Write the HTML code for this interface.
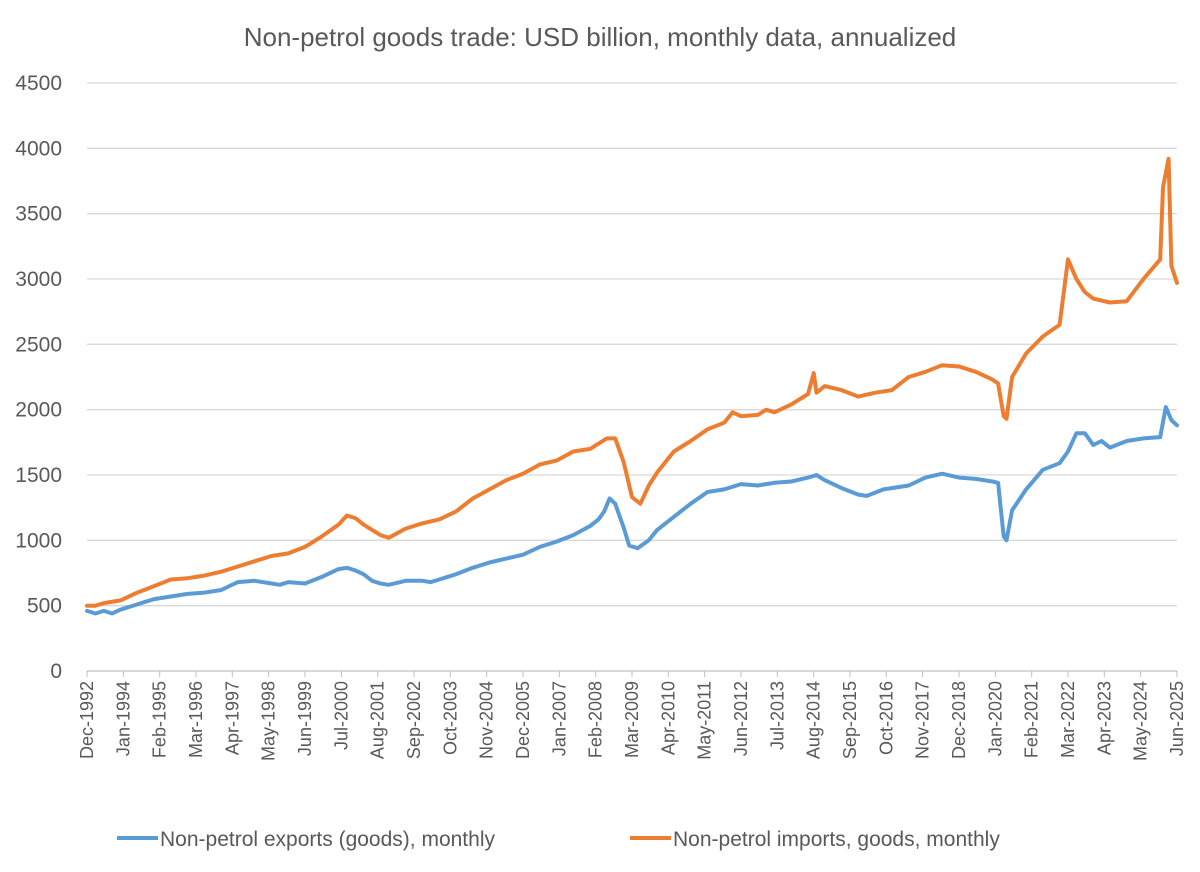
<!DOCTYPE html>
<html><head><meta charset="utf-8"><style>
body{margin:0;background:#fff;}
svg{display:block;font-family:"Liberation Sans",sans-serif;}
</style></head><body>
<svg id="chart" width="1200" height="872" viewBox="0 0 1200 872">
<rect width="1200" height="872" fill="#fff"/>
<text x="600" y="46" text-anchor="middle" font-size="26" fill="#595959">Non-petrol goods trade: USD billion, monthly data, annualized</text>
<g id="grid"></g><g id="ylabels"></g><g id="xlabels"></g><g id="series"></g>
<g>
<line x1="117" y1="838" x2="158" y2="838" stroke="#5b9bd5" stroke-width="4"/>
<text x="160" y="846" font-size="21" fill="#595959">Non-petrol exports (goods), monthly</text>
<line x1="630" y1="838" x2="671" y2="838" stroke="#ed7d31" stroke-width="4"/>
<text x="673" y="846" font-size="21" fill="#595959">Non-petrol imports, goods, monthly</text>
</g>
</svg>
<script>
const yTicks=[0,500,1000,1500,2000,2500,3000,3500,4000,4500];
const expDates=["1992-12","1993-03","1993-06","1993-09","1993-12","1994-03","1994-06","1994-09","1994-12","1995-06","1995-12","1996-06","1996-12","1997-06","1997-12","1998-06","1998-09","1998-12","1999-06","1999-12","2000-06","2000-09","2000-12","2001-03","2001-06","2001-09","2001-12","2002-06","2002-12","2003-03","2003-06","2003-12","2004-06","2004-12","2005-06","2005-12","2006-06","2006-12","2007-06","2007-12","2008-03","2008-05","2008-07","2008-09","2008-12","2009-02","2009-05","2009-09","2009-12","2010-06","2010-12","2011-06","2011-12","2012-06","2012-12","2013-06","2013-12","2014-06","2014-09","2014-12","2015-06","2015-12","2016-03","2016-09","2016-12","2017-06","2017-12","2018-06","2018-12","2019-06","2019-12","2020-02","2020-04","2020-05","2020-07","2020-12","2021-06","2021-12","2022-03","2022-06","2022-09","2022-12","2023-03","2023-06","2023-12","2024-06","2024-12","2025-02","2025-04","2025-06"];
const expValues=[460,440,460,440,470,490,510,530,550,570,590,600,620,680,690,670,660,680,670,720,780,790,770,740,690,670,660,690,690,680,700,740,790,830,860,890,950,990,1040,1110,1160,1220,1320,1280,1100,960,940,1000,1080,1180,1280,1370,1390,1430,1420,1440,1450,1480,1500,1460,1400,1350,1340,1390,1400,1420,1480,1510,1480,1470,1450,1440,1030,1000,1230,1390,1540,1590,1680,1820,1820,1730,1760,1710,1760,1780,1790,2020,1920,1880];
const impDates=["1992-12","1993-03","1993-06","1993-12","1994-06","1994-12","1995-06","1995-12","1996-06","1996-12","1997-06","1997-12","1998-06","1998-12","1999-06","1999-12","2000-06","2000-09","2000-12","2001-03","2001-06","2001-09","2001-12","2002-06","2002-12","2003-06","2003-12","2004-06","2004-12","2005-06","2005-12","2006-06","2006-12","2007-06","2007-12","2008-06","2008-09","2008-12","2009-03","2009-06","2009-09","2009-12","2010-06","2010-12","2011-06","2011-12","2012-03","2012-06","2012-12","2013-03","2013-06","2013-12","2014-06","2014-08","2014-09","2014-12","2015-06","2015-12","2016-06","2016-12","2017-06","2017-12","2018-06","2018-12","2019-06","2019-12","2020-02","2020-04","2020-05","2020-07","2020-12","2021-06","2021-12","2022-03","2022-06","2022-09","2022-12","2023-06","2023-12","2024-06","2024-12","2025-01","2025-03","2025-04","2025-06"];
const impValues=[500,500,520,540,600,650,700,710,730,760,800,840,880,900,950,1030,1120,1190,1170,1120,1080,1040,1020,1090,1130,1160,1220,1320,1390,1460,1510,1580,1610,1680,1700,1780,1780,1600,1330,1280,1420,1520,1680,1760,1850,1900,1980,1950,1960,2000,1980,2040,2120,2280,2130,2180,2150,2100,2130,2150,2250,2290,2340,2330,2290,2230,2200,1950,1930,2250,2430,2560,2650,3150,3000,2900,2850,2820,2830,3000,3150,3700,3920,3100,2970];
const monthNames=["Jan","Feb","Mar","Apr","May","Jun","Jul","Aug","Sep","Oct","Nov","Dec"];
const NS="http://www.w3.org/2000/svg";
const X0=87,X1=1177,Y0=671,YTOP=83,MAXY=4500,NMONTHS=390;
function mIndex(d){const [y,m]=d.split("-").map(Number);return (y-1992)*12+(m-12);}
function xs(i){return X0+(X1-X0)*i/NMONTHS;}
function ys(v){return Y0-(Y0-YTOP)*v/MAXY;}
function mk(tag,attrs,parent){const e=document.createElementNS(NS,tag);for(const k in attrs)e.setAttribute(k,attrs[k]);parent.appendChild(e);return e;}
const grid=document.getElementById("grid"),yl=document.getElementById("ylabels"),xl=document.getElementById("xlabels"),ser=document.getElementById("series");
yTicks.forEach(t=>{
  const l=mk("line",{x1:X0,x2:X1,y1:ys(t),y2:ys(t),stroke:t===0?"#bfbfbf":"#d9d9d9","stroke-width":1.3},grid);
  
  
  const tx=mk("text",{x:62,y:ys(t)+7,"text-anchor":"end","font-size":21,fill:"#595959"},yl);
  tx.textContent=t;
  
  
});
for(let i=0;i<=NMONTHS;i+=13){
  const mo=(11+i)%12, yr=1992+Math.floor((11+i)/12);
  const lab=monthNames[mo]+"-"+yr;
  const x=xs(i);
  const tk=mk("line",{x1:x,x2:x,y1:Y0,y2:Y0+6,stroke:"#bfbfbf","stroke-width":1},grid);
  
  
  const tx=mk("text",{x:0,y:0,"text-anchor":"end","font-size":18,fill:"#595959",transform:`translate(${x+6},${Y0+10}) rotate(-90)`},xl);
  tx.textContent=lab;
  
  
}
function drawLine(dates,vals,color,name){
  const d=dates.map((dt,i)=>(i?"L":"M")+xs(mIndex(dt)).toFixed(1)+","+ys(vals[i]).toFixed(1)).join(" ");
  const p=mk("path",{d:d,fill:"none",stroke:color,"stroke-width":4,"stroke-linejoin":"round","stroke-linecap":"round"},ser);
  
  
}
drawLine(expDates,expValues,"#5b9bd5","exports-line");
drawLine(impDates,impValues,"#ed7d31","imports-line");
</script>
</body></html>
